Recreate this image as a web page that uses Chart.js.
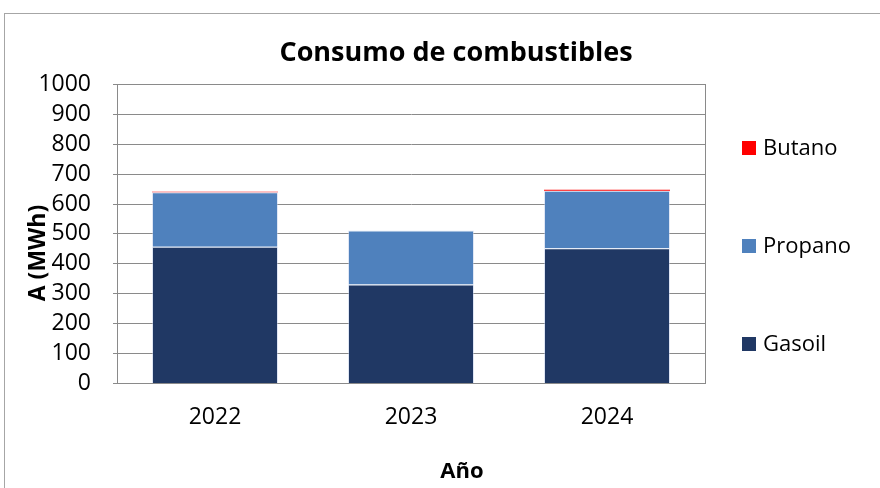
<!DOCTYPE html>
<html>
<head>
<meta charset="utf-8">
<script src="https://cdn.jsdelivr.net/npm/chart.js@4"></script>
<style>
  html, body { margin: 0; padding: 0; background: #fff; }
  #wrap { width: 880px; height: 488px; position: relative; }
</style>
</head>
<body>
<div id="wrap"><canvas id="chart"></canvas></div>
<script>
// Consumo de combustibles — stacked bars per year
const years   = ['2022', '2023', '2024'];
const gasoil  = [457, 331, 452];
const propano = [182, 180, 192];
const butano  = [2, 0, 4];

const FONT = "'Open Sans', 'Noto Sans', sans-serif";
const GRID = '#8a8a8a';
const EDGE = 'rgba(190,205,235,0.45)';

// outer frame + white background, box round the plot
const frame = {
  id: 'frame',
  beforeDraw(chart) {
    const c = chart.ctx;
    c.save();
    c.fillStyle = '#fff';
    c.fillRect(0, 0, chart.width, chart.height);
    c.strokeStyle = '#a6a6a6';
    c.lineWidth = 1;
    c.strokeRect(4.5, 13.5, chart.width + 20, chart.height + 20);
    c.restore();
  },
  afterDatasetsDraw(chart) {
    const a = chart.chartArea, c = chart.ctx;
    c.save();
    c.strokeStyle = GRID;
    c.lineWidth = 1;
    c.strokeRect(Math.round(a.left) + 0.5, Math.round(a.top) + 0.5,
                 Math.round(a.right - a.left), Math.round(a.bottom - a.top));
    c.restore();
  }
};

// axis titles placed where the office chart puts them
const axisTitles = {
  id: 'axisTitles',
  afterDraw(chart) {
    const c = chart.ctx;
    c.save();
    c.fillStyle = '#000';
    c.textAlign = 'center';
    c.textBaseline = 'middle';
    c.font = 'bold 22px ' + FONT;
    c.fillText('Año', 462, 472);
    c.translate(38, 253);
    c.rotate(-Math.PI / 2);
    c.font = 'bold 23px ' + FONT;
    c.fillText('A (MWh)', 0, 0);
    c.restore();
  }
};

// right-hand legend, items spread out like the office chart
const sideLegend = {
  id: 'sideLegend',
  afterDraw(chart) {
    const c = chart.ctx;
    const a = chart.chartArea;
    const sets = chart.data.datasets.slice().reverse();
    const gap = 98;
    const mid = (a.top + a.bottom) / 2 + 12;
    c.save();
    c.font = '22px ' + FONT;
    c.textBaseline = 'middle';
    sets.forEach((ds, i) => {
      const y = mid + (i - (sets.length - 1) / 2) * gap;
      c.fillStyle = ds.backgroundColor;
      c.fillRect(742, Math.round(y - 7), 14, 14);
      c.fillStyle = '#000';
      c.fillText(ds.label, 763, y + 1);
    });
    c.restore();
  }
};

new Chart(document.getElementById('chart'), {
  type: 'bar',
  data: {
    labels: years,
    datasets: [
      { label: 'Gasoil',  data: gasoil,  backgroundColor: '#203864', borderColor: EDGE, borderWidth: 1 },
      { label: 'Propano', data: propano, backgroundColor: '#4f81bd', borderColor: EDGE, borderWidth: 1 },
      { label: 'Butano',  data: butano,  backgroundColor: '#ff0000', borderWidth: 0 }
    ]
  },
  options: {
    responsive: true,
    maintainAspectRatio: false,
    animation: false,
    layout: { padding: { top: 0, right: 0, bottom: 45, left: 32 } },
    datasets: {
      bar: { categoryPercentage: 1, barPercentage: 0.643 }
    },
    plugins: {
      legend: { display: false },
      tooltip: { enabled: false },
      title: {
        display: true,
        text: 'Consumo de combustibles',
        color: '#000',
        font: { family: FONT, size: 27, weight: 'bold' },
        padding: { top: 37, bottom: 15 }
      }
    },
    scales: {
      x: {
        stacked: true,
        grid: { display: false },
        border: { color: GRID },
        ticks: { color: '#000', font: { family: FONT, size: 23 }, padding: 12 }
      },
      y: {
        stacked: true,
        min: 0, max: 1000,
        afterFit(s) { s.width = 85; },
        grid: { color: GRID, tickLength: 4 },
        border: { color: GRID },
        ticks: { stepSize: 100, autoSkip: false, color: '#000',
                 font: { family: FONT, size: 23 }, padding: 22,
                 callback: (v) => String(v) }
      },
      // empty axis that only keeps room for the legend on the right
      side: {
        type: 'linear',
        position: 'right',
        afterFit(s) { s.width = 175; },
        grid: { display: false },
        border: { display: false },
        ticks: { display: false }
      }
    }
  },
  plugins: [frame, axisTitles, sideLegend]
});
</script>
</body>
</html>
